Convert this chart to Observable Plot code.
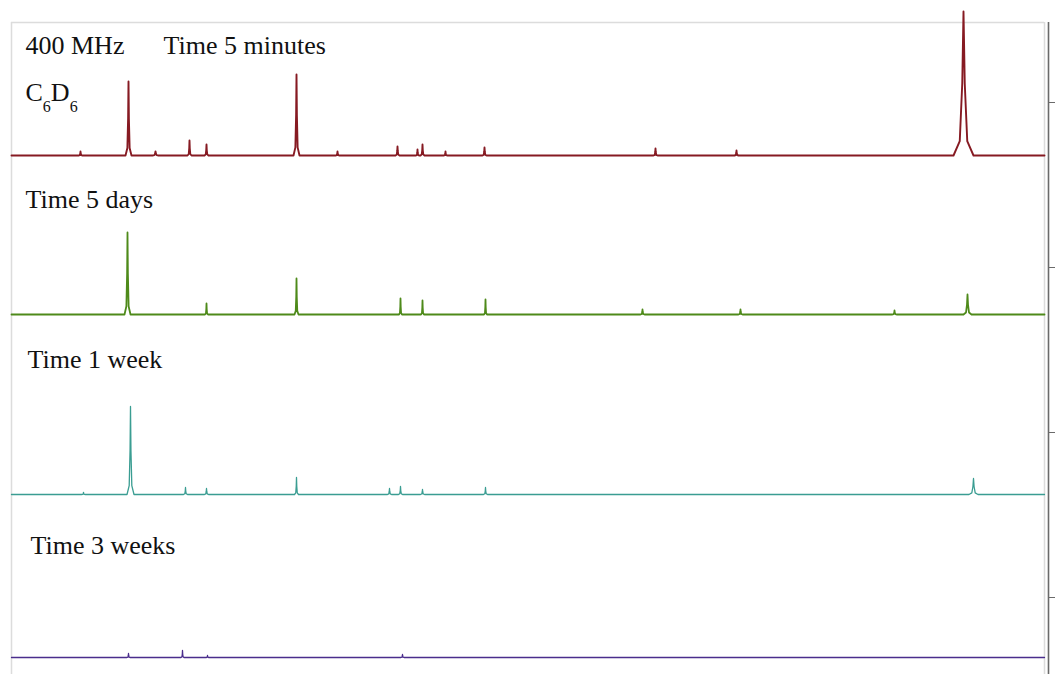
<!DOCTYPE html>
<html>
<head>
<meta charset="utf-8">
<script src="https://cdn.jsdelivr.net/npm/d3@7"></script>
<script src="https://cdn.jsdelivr.net/npm/@observablehq/plot@0.6"></script>
<style>
  html, body { margin: 0; padding: 0; background: #fff; }
  #chart { width: 1055px; height: 674px; }
</style>
</head>
<body>
<div id="chart"></div>
<script>
// ---- Data ----
const series = ["Time 5 minutes", "Time 5 days", "Time 1 week", "Time 3 weeks"];
// peaks: [position, height, half-width at base]
const peaks5min = [[80,4,2],[128,74,3],[155,4,3],[189,15,2],[206,11,2],[296,81,3],[337,4,2],[397,9,2],[417,6,1.5],[422,11,2],[445,4,1.5],[484,8,2],[655,7,2],[736,5,2],[963,144,10]];
const peaks5days = [[127,82,3],[206,11,1.5],[296,36,2],[400,16,1.5],[422,14,1.5],[485,15,1.5],[642,5,2],[740,5,2],[894,4,2],[967,20,4]];
const peaks1week = [[83,2,2],[130,88,3.5],[185,7,2],[206,6,2],[296,17,2],[389,6,2],[400,8,2],[422,5,2],[485,7,2],[973,16,4.5]];
const peaks3weeks = [[128,4,1.5],[182,7,1.5],[207,2,1.5],[402,3,1.5]];
const labels = ["400 MHz", "Time 5 minutes", "C6D6", "Time 5 days", "Time 1 week", "Time 3 weeks"];
const tickValues = [77, 242, 407, 572];

// ---- Layout ----
const W = 1055, H = 674;
const spanX = [11, 1044];
const baselines = [519, 360, 180, 17];
const colors = ["#861a22", "#4e8a1a", "#3a9d92", "#4a2d8c"];
const widths = [1.9, 1.8, 1.3, 1.3];
const labelPos = [[25, 621], [163, 621], [25, 574], [25, 467], [27, 307], [30, 121]];
const frameTop = 652;

const allPeaks = [peaks5min, peaks5days, peaks1week, peaks3weeks];
const rows = [];
series.forEach((s, i) => {
  const b = baselines[i];
  const pts = [[spanX[0], b]];
  allPeaks[i].slice().sort((a, c) => a[0] - c[0]).forEach(([p, h, w]) => {
    pts.push(
      [p - w, b], [p - w * 0.375, b + h * 0.1], [p - w * 0.125, b + h * 0.5],
      [p, b + h],
      [p + w * 0.125, b + h * 0.5], [p + w * 0.375, b + h * 0.1], [p + w, b]
    );
  });
  pts.push([spanX[1], b]);
  pts.forEach(([x, y]) => rows.push({series: s, x, y}));
});

const textRows = labels.map((t, i) => ({t, x: labelPos[i][0], y: labelPos[i][1]}));

const chart = Plot.plot({
  width: W,
  height: H,
  marginLeft: 0,
  marginRight: 7,
  marginTop: 0,
  marginBottom: 0,
  x: {domain: [0, 1048], axis: null},
  y: {domain: [0, H], axis: null},
  marks: [
    Plot.ruleX([spanX[0], spanX[1]], {y1: 0, y2: frameTop, stroke: "#dcdcdc", strokeWidth: 1.5}),
    Plot.ruleY([frameTop], {x1: spanX[0], x2: spanX[1], stroke: "#dcdcdc", strokeWidth: 1.5}),
    Plot.ruleX([1048], {y1: 0, y2: frameTop, stroke: "#6a6a6a", strokeWidth: 1.6}),
    Plot.axisY({anchor: "right", ticks: tickValues, tickSize: 6, tickFormat: () => "", label: null, stroke: "#6a6a6a"}),
    ...series.map((s, i) => Plot.line(rows.filter(r => r.series === s), {
      x: "x", y: "y", stroke: colors[i], strokeWidth: widths[i], strokeLinejoin: "round"
    })),
    Plot.text(textRows, {
      x: "x", y: "y", text: "t", textAnchor: "start", lineAnchor: "bottom",
      fontFamily: "Liberation Serif, Times New Roman, serif", fontSize: 26, fill: "#111"
    })
  ]
});

// render C6D6 with subscripts
chart.querySelectorAll("text").forEach(el => {
  if (el.textContent === "C6D6") {
    el.textContent = "";
    const ns = "http://www.w3.org/2000/svg";
    const parts = [["C", 0, null], ["6", 11, 16], ["D", -11, null], ["6", 11, 16]];
    parts.forEach(([t, dy, fs]) => {
      const ts = document.createElementNS(ns, "tspan");
      ts.textContent = t;
      if (dy) ts.setAttribute("dy", dy);
      if (fs) ts.setAttribute("font-size", fs);
      el.appendChild(ts);
    });
  }
});

document.getElementById("chart").appendChild(chart);
</script>
</body>
</html>
